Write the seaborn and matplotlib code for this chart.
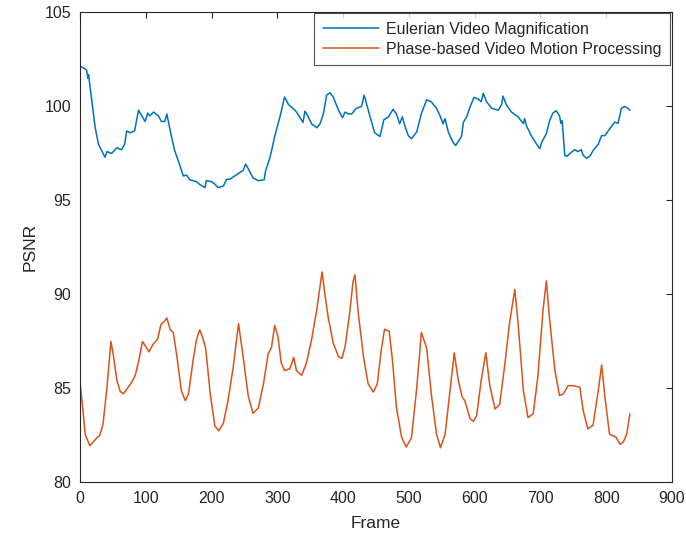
import pandas as pd
import matplotlib.pyplot as plt
import seaborn as sns

# values
evm_frame = [0, 10, 12, 13, 18, 23, 28, 38, 41, 48, 56, 63, 68, 71, 76, 83, 89, 94, 99, 103,
             106, 112, 119, 124, 129, 132, 134, 139, 144, 152, 157, 162, 167, 177, 182, 190, 192,
             200, 204, 210, 218, 223, 228, 235, 246, 248, 252, 256, 263, 271, 280, 282, 289, 296,
             304, 311, 317, 322, 327, 332, 339, 342, 347, 352, 360, 365, 370, 375, 380, 385, 393,
             399, 403, 408, 413, 420, 428, 432, 436, 441, 448, 456, 462, 469, 476, 481, 486, 490,
             494, 499, 504, 512, 519, 527, 534, 542, 548, 552, 555, 560, 567, 571, 580, 583, 588,
             593, 599, 605, 610, 613, 618, 626, 636, 641, 643, 648, 656, 666, 674, 676, 679, 686,
             694, 699, 702, 709, 714, 719, 724, 729, 731, 733, 737, 740, 745, 752, 757, 762, 765,
             770, 775, 780, 788, 793, 798, 805, 813, 818, 823, 828, 833, 836]
evm_psnr = [102.1, 101.9, 101.45, 101.65, 100.25, 98.85, 97.95, 97.25, 97.55, 97.45, 97.75, 97.65,
            97.95, 98.65, 98.55, 98.65, 99.75, 99.45, 99.15, 99.6, 99.45, 99.65, 99.45, 99.15,
            99.15, 99.55, 99.2, 98.35, 97.6, 96.8, 96.25, 96.3, 96.05, 95.95, 95.8, 95.63, 96.0,
            95.95, 95.85, 95.63, 95.72, 96.08, 96.08, 96.25, 96.5, 96.55, 96.88, 96.62, 96.15,
            96.0, 96.05, 96.5, 97.25, 98.35, 99.4, 100.45, 100.05, 99.9, 99.75, 99.5, 99.1, 99.7,
            99.4, 99.03, 98.82, 99.03, 99.57, 100.55, 100.68, 100.45, 99.75, 99.35, 99.65, 99.55,
            99.55, 99.85, 99.95, 100.55, 100.05, 99.4, 98.55, 98.35, 99.25, 99.4, 99.8, 99.55,
            99.03, 99.4, 98.9, 98.4, 98.23, 98.6, 99.57, 100.3, 100.2, 99.85, 99.4, 99.03, 99.3,
            98.58, 98.05, 97.87, 98.35, 99.12, 99.4, 99.93, 100.43, 100.35, 100.2, 100.65, 100.2,
            99.85, 99.75, 100.05, 100.5, 100.05, 99.65, 99.4, 99.03, 99.3, 98.9, 98.4, 97.95, 97.7,
            98.05, 98.5, 99.2, 99.6, 99.72, 99.45, 99.05, 99.2, 97.35, 97.3, 97.45, 97.65, 97.55,
            97.65, 97.35, 97.2, 97.3, 97.6, 97.95, 98.4, 98.4, 98.75, 99.12, 99.05, 99.85, 99.95,
            99.85, 99.75]

pb_frame = [0, 3, 8, 15, 20, 25, 30, 35, 41, 47, 51, 56, 61, 66, 71, 79, 84, 89, 95, 100, 105,
            111, 118, 123, 129, 132, 137, 142, 147, 154, 160, 165, 172, 177, 182, 187, 191, 198,
            205, 211, 218, 225, 233, 241, 248, 256, 263, 271, 279, 286, 291, 296, 301, 306, 311,
            319, 325, 329, 337, 344, 352, 360, 365, 368, 372, 377, 385, 393, 398, 403, 410, 415,
            418, 423, 431, 438, 446, 452, 458, 463, 470, 475, 481, 489, 496, 504, 512, 519, 527,
            534, 542, 548, 555, 562, 569, 575, 581, 585, 593, 598, 603, 610, 617, 623, 631, 638,
            646, 653, 661, 666, 674, 681, 689, 696, 704, 709, 714, 722, 729, 735, 742, 750, 757,
            760, 765, 772, 780, 788, 793, 798, 805, 813, 815, 821, 826, 831, 836]
pb_psnr = [85.3, 84.3, 82.5, 81.9, 82.1, 82.3, 82.45, 83.05, 85.0, 87.45, 86.65, 85.4, 84.8,
           84.67, 84.9, 85.3, 85.65, 86.37, 87.45, 87.17, 86.9, 87.3, 87.57, 88.35, 88.55, 88.7,
           88.1, 87.9, 86.73, 84.85, 84.3, 84.67, 86.46, 87.53, 88.07, 87.6, 87.1, 84.67, 82.96,
           82.7, 83.1, 84.3, 86.1, 88.4, 86.64, 84.5, 83.63, 83.9, 85.2, 86.8, 87.1, 88.3, 87.7,
           86.3, 85.9, 86.0, 86.6, 85.9, 85.65, 86.28, 87.53, 89.15, 90.4, 91.15, 90.05, 88.8,
           87.36, 86.64, 86.55, 87.17, 88.97, 90.6, 91.0, 88.97, 86.64, 85.2, 84.76, 85.2, 87.0,
           88.1, 88.0, 86.46, 83.95, 82.34, 81.84, 82.34, 85.0, 87.93, 87.1, 84.67, 82.52, 81.8,
           82.5, 84.67, 86.85, 85.4, 84.5, 84.3, 83.35, 83.2, 83.5, 85.4, 86.85, 85.1, 83.86,
           84.1, 86.28, 88.43, 90.22, 88.43, 84.85, 83.4, 83.6, 85.56, 89.15, 90.67, 88.6, 85.9,
           84.57, 84.67, 85.1, 85.1, 85.04, 85.0, 83.77, 82.8, 83.0, 84.85, 86.2, 84.5, 82.52,
           82.4, 82.35, 81.98, 82.1, 82.5, 83.6]

evm = pd.DataFrame({"Frame": evm_frame, "PSNR": evm_psnr})
pb = pd.DataFrame({"Frame": pb_frame, "PSNR": pb_psnr})

sns.set_style("white")
plt.rcParams["font.family"] = ["Liberation Sans", "DejaVu Sans"]

fig = plt.figure(figsize=(6.86, 5.4), dpi=100)
ax = fig.add_axes([0.1166, 0.1083, 0.8630, 0.8704])

sns.lineplot(data=evm, x="Frame", y="PSNR", color="#0072BD", linewidth=1.1,
             label="Eulerian Video Magnification", ax=ax)
sns.lineplot(data=pb, x="Frame", y="PSNR", color="#D95319", linewidth=1.1,
             label="Phase-based Video Motion Processing", ax=ax)

ax.set_xlim(0, 900)
ax.set_ylim(80, 105)
ax.set_xticks(range(0, 901, 100))
ax.set_yticks(range(80, 106, 5))
ax.set_xlabel("Frame", fontsize=12.5, color="#262626", labelpad=7)
ax.set_ylabel("PSNR", fontsize=12.5, color="#262626", labelpad=5)
ax.tick_params(direction="in", top=True, right=True, length=4.5, width=0.8,
               labelsize=11.5, colors="#262626")
ax.tick_params(axis="x", pad=7)
ax.tick_params(axis="y", pad=6.5)
for s in ax.spines.values():
    s.set_visible(True)
    s.set_color("#262626")
    s.set_linewidth(0.8)

leg = ax.legend(loc="upper right", fontsize=11.5, frameon=True, fancybox=False,
                handlelength=3.5, handletextpad=0.45, borderpad=0.55, labelspacing=0.3,
                borderaxespad=0.1)
leg.get_frame().set_edgecolor("#262626")
leg.get_frame().set_linewidth(0.8)

fig.savefig("out.png", dpi=100)
